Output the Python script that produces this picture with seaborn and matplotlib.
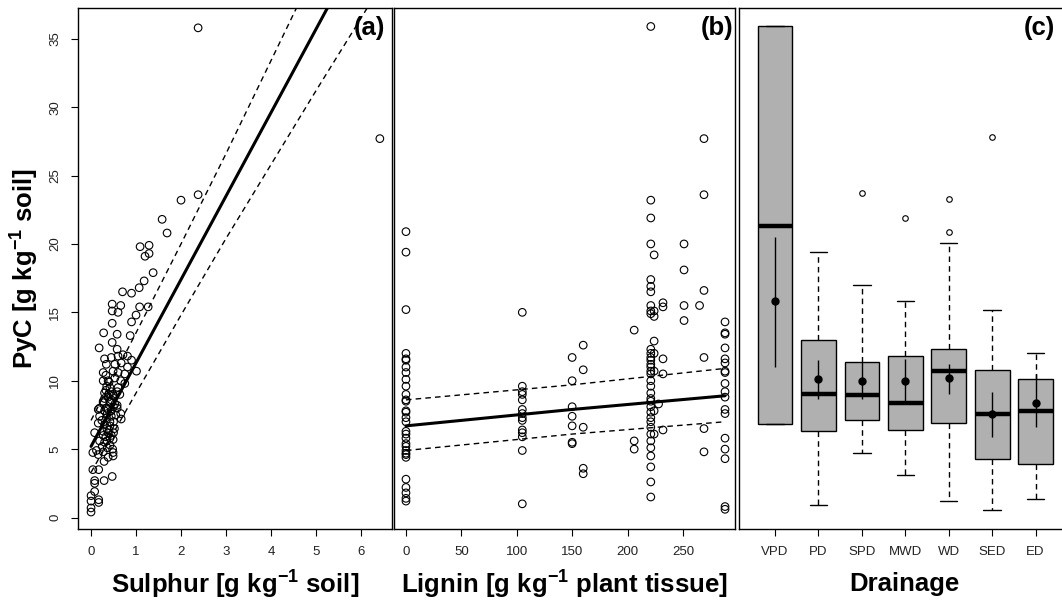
import numpy as np
import pandas as pd
import matplotlib
matplotlib.use('Agg')
import matplotlib.pyplot as plt
import seaborn as sns

# ---- panel (a): sulphur vs PyC ----
sulphur = [2.38, 6.42, 2.38, 2.00, 1.58, 1.69, 1.09, 1.29, 1.20, 1.29, 1.38, 1.18,
           0.70, 0.90, 0.47, 0.66, 0.47, 0.60, 1.08, 1.27, 1.00, 0.90, 0.47, 0.28,
           0.58, 0.87, 0.47, 0.18, 0.58, 0.30, 0.45, 0.60, 0.71, 0.81, 0.90, 0.53,
           0.67, 0.34, 0.81, 1.01, 0.27, 0.49, 0.60, 0.75, 0.38, 0.53, 0.66, 0.27,
           0.42, 0.60, 0.75, 0.30, 0.49, 0.64, 0.27, 0.42, 0.53, 0.19, 0.34, 0.58,
           0.27, 0.42, 0.58, 0.16, 0.30, 0.45, 0.66, 0.19, 0.34, 0.67, 0.16, 0.30,
           0.42, 0.27, 0.08, 0.38, 0.27, 0.42, 0.49, 0.19, 0.30, 0.12, 0.16, 0.04,
           0.49, 0.49, 0.38, 0.29, 0.04, 0.17, 0.47, 0.29, 0.08, 0.08, 0.08, 0.00,
           0.17, 0.17, 0.00, 0.00, 0.00, 1.07,
           0.35, 0.45, 0.38, 0.30, 0.50, 0.36, 0.42, 0.35, 0.33, 0.25, 0.36, 0.27,
           0.40, 0.55, 0.52, 0.45, 0.33, 0.58, 0.24,
           0.33, 0.40, 0.45, 0.50, 0.38, 0.45, 0.50, 0.40, 0.50, 0.35, 0.42, 0.48]
pyc_a = [35.8, 27.7, 23.6, 23.2, 21.8, 20.8, 19.8, 19.9, 19.1, 19.3, 17.9, 17.3,
         16.5, 16.4, 15.6, 15.5, 15.1, 15.0, 15.4, 15.4, 14.8, 14.3, 14.2, 13.5,
         13.4, 13.3, 12.8, 12.4, 12.3, 11.6, 11.7, 11.8, 11.9, 11.8, 11.5, 11.2,
         11.3, 11.2, 11.0, 10.7, 10.6, 10.7, 10.6, 10.5, 10.0, 10.2, 10.0, 10.0,
         9.5, 9.5, 9.8, 9.1, 9.0, 9.0, 8.5, 8.5, 8.3, 8.0, 8.0, 8.0,
         8.4, 8.4, 8.2, 7.9, 7.8, 7.8, 7.6, 7.4, 7.3, 7.2, 6.9, 6.8,
         6.7, 6.3, 6.2, 6.2, 6.0, 5.8, 5.7, 5.6, 5.5, 4.9, 4.6, 4.75,
         4.75, 4.5, 4.4, 4.1, 3.5, 3.5, 3.0, 2.7, 2.7, 2.5, 1.9, 1.6,
         1.3, 1.1, 1.2, 0.7, 0.4, 16.8,
         9.6, 9.2, 8.8, 8.7, 8.9, 7.6, 7.0, 6.5, 5.9, 5.2, 5.1, 4.8,
         9.9, 7.5, 6.5, 6.0, 10.4, 9.2, 7.1,
         9.3, 9.0, 8.6, 8.1, 7.9, 7.4, 7.0, 6.4, 6.2, 5.6, 5.3, 5.0]

# fitted line and dashed bands
band_s = [0, 1, 2, 3, 4, 5, 6, 6.7]
fit_a = [5.2, 11.3, 17.4, 23.5, 29.6, 35.7, 41.8, 46.1]
upper_a = [7.1, 13.5, 20.0, 26.6, 33.4, 40.2, 47.1, 51.9]
lower_a = [3.3, 9.1, 14.8, 20.4, 25.8, 31.2, 36.5, 40.3]

# ---- panel (b): lignin vs PyC ----
lignin_levels = [0, 105, 150, 160, 206, 221, 224, 228, 232, 251, 265, 269, 288]
pyc_l0 = [20.9, 19.4, 15.2, 12.0, 11.6, 11.5, 11.0, 10.6, 10.1, 9.6, 9.0, 8.6, 8.5,
          7.8, 7.7, 7.3, 7.0, 6.3, 6.1, 5.8, 5.4, 5.2, 4.9, 4.7, 4.6, 4.4, 2.8,
          2.2, 1.8, 1.4, 1.2]
pyc_l105 = [15.0, 9.6, 9.2, 9.0, 8.6, 7.9, 7.6, 7.3, 7.1, 6.4, 6.2, 5.9, 4.9, 1.0]
pyc_l150 = [11.7, 10.0, 8.1, 7.4, 6.7, 5.5, 5.4]
pyc_l160 = [12.6, 10.8, 6.6, 3.6, 3.2]
pyc_l206 = [13.7, 5.6, 5.0]
pyc_l221 = [35.9, 23.2, 21.9, 20.0, 17.4, 16.9, 16.5, 15.5, 15.1, 14.9, 12.3, 12.0,
            11.7, 11.5, 11.2, 11.0, 10.7, 10.5, 10.0, 9.6, 9.1, 8.7, 8.5, 8.1, 7.7,
            7.3, 7.0, 6.6, 6.1, 5.6, 5.1, 4.5, 3.7, 2.6, 1.5]
pyc_l224 = [19.2, 15.1, 14.7, 12.9, 12.0, 10.7, 7.8, 6.1]
pyc_l228 = [8.3]
pyc_l232 = [15.7, 15.4, 11.6, 10.5, 6.4]
pyc_l251 = [20.0, 18.1, 15.5, 14.4]
pyc_l265 = [15.5]
pyc_l269 = [27.7, 23.6, 16.6, 11.7, 6.5, 4.8]
pyc_l288 = [14.3, 13.5, 13.4, 12.4, 11.6, 11.3, 10.7, 10.6, 9.8, 9.2, 8.8, 7.9, 7.6,
            5.8, 5.0, 4.3, 0.8, 0.6]
pyc_by_lignin = [pyc_l0, pyc_l105, pyc_l150, pyc_l160, pyc_l206, pyc_l221, pyc_l224,
                 pyc_l228, pyc_l232, pyc_l251, pyc_l265, pyc_l269, pyc_l288]

band_l = [0, 150, 288]
fit_b = [6.7, 7.9, 8.9]
upper_b = [8.6, 9.7, 10.9]
lower_b = [4.9, 6.1, 7.0]

# ---- panel (c): drainage classes ----
drainage = ['VPD', 'PD', 'SPD', 'MWD', 'WD', 'SED', 'ED']
box_q1 = [6.8, 6.35, 7.1, 6.4, 6.9, 4.25, 3.9]
box_med = [21.3, 9.0, 8.96, 8.4, 10.7, 7.6, 7.8]
box_q3 = [35.9, 13.0, 11.35, 11.8, 12.3, 10.8, 10.1]
whisk_lo = [6.8, 0.95, 4.7, 3.1, 1.2, 0.56, 1.35]
whisk_hi = [35.9, 19.4, 16.97, 15.8, 20.05, 15.2, 12.0]
outliers = [[], [], [23.7], [21.9], [23.3, 20.9], [27.8], []]
means = [15.8, 10.1, 10.0, 10.0, 10.2, 7.6, 8.4]
ci_lo = [11.0, 8.7, 8.7, 8.5, 9.0, 5.9, 6.6]
ci_hi = [20.5, 11.5, 11.4, 11.6, 11.2, 9.2, 10.5]

sns.set_theme(style='ticks')
plt.rcParams['font.family'] = ['Liberation Sans', 'DejaVu Sans']
plt.rcParams['mathtext.fontset'] = 'custom'
plt.rcParams['mathtext.rm'] = 'Liberation Sans'
plt.rcParams['mathtext.bf'] = 'Liberation Sans:bold'
plt.rcParams['axes.edgecolor'] = 'black'
plt.rcParams['axes.labelcolor'] = 'black'
plt.rcParams['text.color'] = 'black'
plt.rcParams['axes.linewidth'] = 1.0

W, H = 1062, 600
fig = plt.figure(figsize=(W / 100, H / 100), dpi=100)
bot, top = 529, 8
def pos(x0, x1):
    return [x0 / W, 1 - bot / H, (x1 - x0) / W, (bot - top) / H]

ax_a = fig.add_axes(pos(78, 392))
ax_b = fig.add_axes(pos(394, 735))
ax_c = fig.add_axes(pos(739, 1069))

ylim = (-0.84, 37.25)
dash = (0, (4, 3))
lab_kw = dict(fontsize=18.5, fontweight='bold', color='black')

# (a)
sns.scatterplot(x=sulphur, y=pyc_a, ax=ax_a, marker='o', s=30,
                facecolor='none', edgecolor='black', linewidth=0.8)
sns.lineplot(x=band_s, y=fit_a, ax=ax_a, color='black', lw=2.2)
sns.lineplot(x=band_s, y=upper_a, ax=ax_a, color='black', lw=1, linestyle=dash)
sns.lineplot(x=band_s, y=lower_a, ax=ax_a, color='black', lw=1, linestyle=dash)
ax_a.set_xlim(-0.29, 6.69)
ax_a.set_ylim(*ylim)
ax_a.set_xticks(range(7))
ax_a.set_yticks(range(0, 36, 5))
ax_a.tick_params(axis='y', labelrotation=90)
for t in ax_a.get_yticklabels():
    t.set_va('center')
ax_a.set_xlabel('Sulphur [g kg$^{\\mathbf{-1}}$ soil]', **lab_kw)
ax_a.set_ylabel('PyC [g kg$^{\\mathbf{-1}}$ soil]', **lab_kw)
ax_a.yaxis.set_label_coords(-0.175, 0.5)

# (b)
lignin = np.concatenate([[lv] * len(v) for lv, v in zip(lignin_levels, pyc_by_lignin)])
pyc_b = np.concatenate(pyc_by_lignin)
sns.scatterplot(x=lignin, y=pyc_b, ax=ax_b, marker='o', s=30,
                facecolor='none', edgecolor='black', linewidth=0.8)
sns.lineplot(x=band_l, y=fit_b, ax=ax_b, color='black', lw=2.2)
sns.lineplot(x=band_l, y=upper_b, ax=ax_b, color='black', lw=1, linestyle=dash)
sns.lineplot(x=band_l, y=lower_b, ax=ax_b, color='black', lw=1, linestyle=dash)
ax_b.set_xlim(-10.8, 297)
ax_b.set_ylim(*ylim)
ax_b.set_xticks(range(0, 251, 50))
ax_b.set_xlabel('Lignin [g kg$^{\\mathbf{-1}}$ plant tissue]', **lab_kw)

# (c)
stats = [dict(q1=a, med=m, q3=b, whislo=lo, whishi=hi, fliers=f)
         for a, m, b, lo, hi, f in zip(box_q1, box_med, box_q3, whisk_lo, whisk_hi, outliers)]
ax_c.bxp(stats, positions=range(len(drainage)), widths=0.8, patch_artist=True,
         capwidths=0.4,
         boxprops=dict(facecolor='#b0b0b0', edgecolor='black', lw=1),
         medianprops=dict(color='black', lw=3.2, solid_capstyle='butt'),
         whiskerprops=dict(color='black', lw=1, linestyle=dash),
         capprops=dict(color='black', lw=1),
         flierprops=dict(marker='o', mfc='none', mec='black', ms=4, mew=0.8))
ax_c.errorbar(range(len(drainage)), means,
              yerr=[np.subtract(means, ci_lo), np.subtract(ci_hi, means)],
              fmt='o', color='black', ms=5, lw=1, capsize=0, zorder=5)
ax_c.set_xlim(-0.83, 6.77)
ax_c.set_ylim(*ylim)
ax_c.set_xticks(range(len(drainage)))
ax_c.set_xticklabels(drainage)
ax_c.set_xlabel('Drainage', **lab_kw)

for ax, letter, xr in [(ax_a, '(a)', 0.978), (ax_b, '(b)', 0.994), (ax_c, '(c)', 0.958)]:
    ax.tick_params(axis='both', direction='out', length=5, width=0.8,
                   labelsize=9.5, labelcolor='#222222', pad=7, color='black')
    ax.xaxis.set_label_coords(0.5, -0.105)
    ax.xaxis.label.set_va('center')
    ax.text(xr, 0.962, letter, transform=ax.transAxes, ha='right', va='center',
            fontsize=18.5, fontweight='bold', color='black')
    for sp in ax.spines.values():
        sp.set_visible(True)
        sp.set_color('black')
        sp.set_linewidth(1.0)

ax_a.yaxis.label.set_va('center')
for ax in (ax_b, ax_c):
    ax.tick_params(axis='y', left=False, labelleft=False)
    ax.set_ylabel('')

fig.savefig('out.png', dpi=100)
